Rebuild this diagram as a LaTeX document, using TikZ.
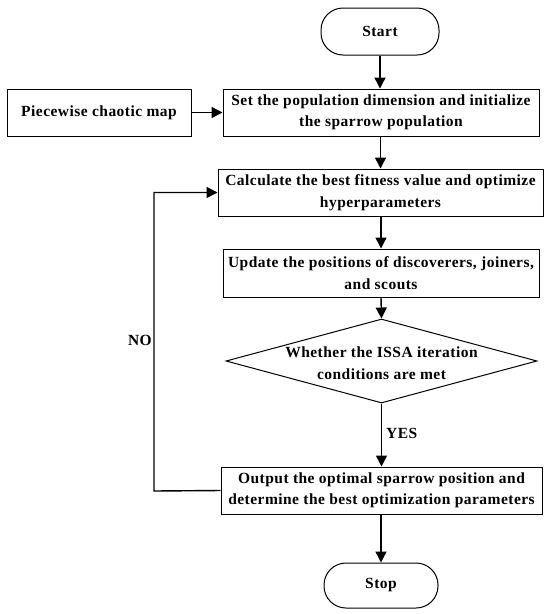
\documentclass[tikz,border=0pt]{standalone}
\usepackage{fontspec}
\setmainfont[LetterSpace=3]{Liberation Serif}
\usetikzlibrary{arrows.meta,shapes.geometric}
\begin{document}
\begin{tikzpicture}[x=1pt,y=-1pt,
  font=\fontsize{15.5}{21.5}\selectfont\bfseries,
  proc/.style={draw=black, line width=1pt, rectangle, align=center, inner sep=0pt, minimum height=47pt},
  term/.style={draw=black, line width=1pt, rectangle, rounded corners=22pt, align=center, inner sep=0pt},
  decis/.style={draw=black, line width=1pt, diamond, inner sep=0pt, minimum width=311pt, minimum height=84pt},
  arr/.style={line width=1.4pt, -{Triangle[length=11pt,width=11pt]}},
  lbl/.style={inner sep=0pt}
]
\useasboundingbox (0,0) rectangle (550,614);
\fill[white] (0,0) rectangle (550,614);

\node[term, minimum width=118pt, minimum height=47pt] (start) at (380,31.5) {Start};
\node[proc, minimum width=316pt] (init) at (381,112.5) {Set the population dimension and initialize\\the sparrow population};
\node[proc, minimum width=184pt] (pw) at (99,112.5) {Piecewise chaotic map};
\node[proc, minimum width=325pt] (calc) at (380.5,192.5) {Calculate the best fitness value and optimize\\hyperparameters};
\node[proc, minimum width=316pt, minimum height=48pt] (upd) at (381,273) {Update the positions of discoverers, joiners,\\and scouts};
\node[decis] (dec) at (381.5,361) {};
\node[lbl, align=center] (dectext) at (381.5,363) {Whether the ISSA iteration\\conditions are met};
\node[proc, minimum width=321pt] (out) at (381.5,490.5) {Output the optimal sparrow position and\\determine the best optimization parameters};
\node[term, minimum width=114pt, minimum height=45pt] (stop) at (381,585.5) {Stop};

\coordinate (lp) at (154,491);

\draw[arr] (start.south) -- (start.south |- init.north);
\draw[arr] (pw.east) -- (init.west);
\draw[arr] (init.south -| calc.north) -- (calc.north);
\draw[arr] (calc.south) -- (calc.south -| upd.north) -- (upd.north);
\draw[arr] (upd.south) -- (dec.north);
\draw[arr] (dec.south) -- (dec.south |- out.north);
\draw[arr] (out.south) -- (out.south -| stop.north) -- (stop.north);
\draw[arr] (out.west) -- (lp) |- (calc.west);

\node[lbl, anchor=east] (no) at (152,340) {NO};
\node[lbl, anchor=west] (yes) at (386,433) {YES};
\end{tikzpicture}
\end{document}
